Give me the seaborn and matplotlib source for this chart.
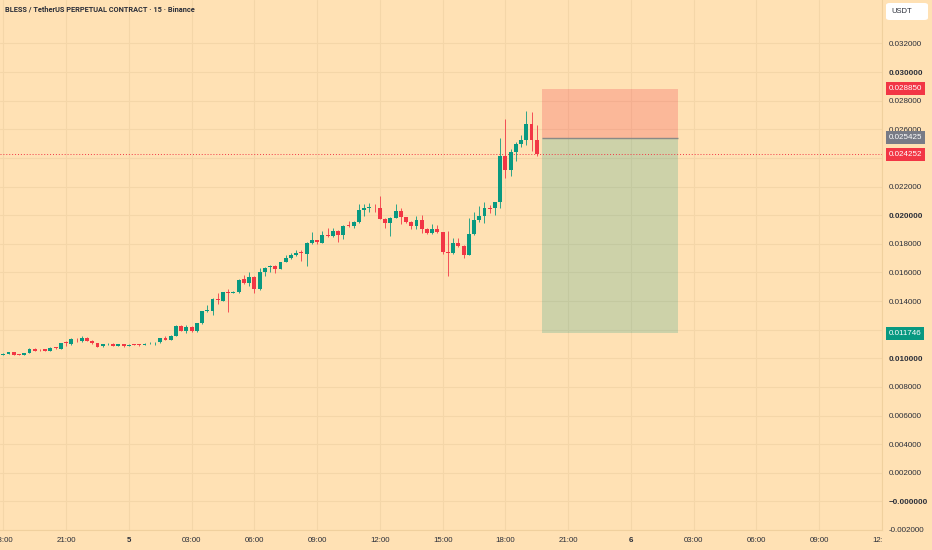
import numpy as np
import pandas as pd
import matplotlib.pyplot as plt
import matplotlib.transforms as mtransforms
from matplotlib.patches import FancyBboxPatch
import seaborn as sns

# 15 minute candles, first one opens 18:00 on day 4
opens = [0.01025, 0.01030, 0.01042, 0.01028, 0.01025, 0.01037, 0.01065, 0.01058, 0.01063, 0.01051,
         0.01077, 0.01065, 0.01111, 0.01100, 0.01130, 0.01118, 0.01141, 0.01123, 0.01105, 0.01084,
         0.01098, 0.01102, 0.01088, 0.01098, 0.01088, 0.01098, 0.01098, 0.01095, 0.01105, 0.01111,
         0.01112, 0.01139, 0.01130, 0.01158, 0.01223, 0.01192, 0.01218, 0.01188, 0.01246, 0.01327,
         0.01332, 0.01413, 0.01401, 0.01464, 0.01457, 0.01460, 0.01553, 0.01525, 0.01571, 0.01483,
         0.01603, 0.01636, 0.01645, 0.01627, 0.01673, 0.01704, 0.01720, 0.01743, 0.01727, 0.01808,
         0.01824, 0.01808, 0.01861, 0.01854, 0.01889, 0.01861, 0.01931, 0.01924, 0.01952, 0.02033,
         0.02050, 0.02057, 0.02047, 0.01976, 0.01948, 0.01983, 0.02029, 0.01987, 0.01955, 0.01924,
         0.01964, 0.01901, 0.01878, 0.01906, 0.01882, 0.01746, 0.01734, 0.01808, 0.01785, 0.01722,
         0.01871, 0.01964, 0.01994, 0.02052, 0.02047, 0.02091, 0.02412, 0.02319, 0.02443, 0.02498,
         0.02528, 0.02640, 0.02528]
highs = [0.01034, 0.01046, 0.01046, 0.01032, 0.01038, 0.01070, 0.01069, 0.01062, 0.01066, 0.01076,
         0.01080, 0.01108, 0.01120, 0.01142, 0.01140, 0.01153, 0.01148, 0.01126, 0.01108, 0.01101,
         0.01110, 0.01106, 0.01103, 0.01101, 0.01099, 0.01101, 0.01102, 0.01105, 0.01115, 0.01115,
         0.01142, 0.01158, 0.01162, 0.01230, 0.01232, 0.01235, 0.01223, 0.01250, 0.01330, 0.01371,
         0.01418, 0.01455, 0.01462, 0.01483, 0.01467, 0.01552, 0.01580, 0.01606, 0.01578, 0.01628,
         0.01638, 0.01655, 0.01650, 0.01676, 0.01725, 0.01734, 0.01755, 0.01756, 0.01812, 0.01882,
         0.01829, 0.01890, 0.01908, 0.01912, 0.01893, 0.01928, 0.01959, 0.01958, 0.02075, 0.02075,
         0.02082, 0.02080, 0.02133, 0.01980, 0.01988, 0.02075, 0.02052, 0.01990, 0.01958, 0.01994,
         0.02000, 0.01908, 0.01936, 0.01934, 0.01885, 0.01889, 0.01843, 0.01842, 0.01790, 0.01983,
         0.02020, 0.02063, 0.02091, 0.02068, 0.02093, 0.02540, 0.02674, 0.02462, 0.02509, 0.02558,
         0.02725, 0.02718, 0.02633]
lows = [0.01021, 0.01027, 0.01020, 0.01021, 0.01023, 0.01034, 0.01050, 0.01052, 0.01048, 0.01048,
        0.01068, 0.01062, 0.01088, 0.01096, 0.01112, 0.01115, 0.01120, 0.01102, 0.01078, 0.01080,
        0.01096, 0.01085, 0.01085, 0.01078, 0.01085, 0.01092, 0.01088, 0.01092, 0.01103, 0.01090,
        0.01109, 0.01127, 0.01127, 0.01155, 0.01188, 0.01178, 0.01185, 0.01185, 0.01243, 0.01325,
        0.01302, 0.01378, 0.01399, 0.01325, 0.01455, 0.01457, 0.01520, 0.01502, 0.01455, 0.01480,
        0.01574, 0.01605, 0.01599, 0.01624, 0.01670, 0.01695, 0.01715, 0.01680, 0.01645, 0.01800,
        0.01801, 0.01805, 0.01850, 0.01850, 0.01813, 0.01831, 0.01915, 0.01913, 0.01948, 0.01995,
        0.02024, 0.02020, 0.01970, 0.01913, 0.01854, 0.01980, 0.01936, 0.01945, 0.01905, 0.01901,
        0.01878, 0.01869, 0.01870, 0.01877, 0.01732, 0.01572, 0.01730, 0.01775, 0.01704, 0.01719,
        0.01862, 0.01954, 0.01948, 0.02013, 0.02003, 0.02052, 0.02261, 0.02277, 0.02382, 0.02474,
        0.02491, 0.02447, 0.02412]
closes = [0.01030, 0.01042, 0.01023, 0.01025, 0.01035, 0.01065, 0.01053, 0.01056, 0.01051, 0.01072,
          0.01070, 0.01105, 0.01105, 0.01135, 0.01125, 0.01141, 0.01123, 0.01105, 0.01081, 0.01098,
          0.01102, 0.01088, 0.01100, 0.01084, 0.01095, 0.01095, 0.01093, 0.01102, 0.01109, 0.01112,
          0.01139, 0.01130, 0.01158, 0.01227, 0.01192, 0.01218, 0.01188, 0.01246, 0.01327, 0.01336,
          0.01413, 0.01406, 0.01460, 0.01455, 0.01464, 0.01548, 0.01525, 0.01571, 0.01483, 0.01603,
          0.01633, 0.01645, 0.01627, 0.01673, 0.01704, 0.01720, 0.01739, 0.01734, 0.01808, 0.01824,
          0.01813, 0.01859, 0.01854, 0.01889, 0.01861, 0.01924, 0.01924, 0.01955, 0.02033, 0.02052,
          0.02059, 0.02054, 0.01976, 0.01948, 0.01983, 0.02029, 0.01987, 0.01955, 0.01924, 0.01964,
          0.01901, 0.01878, 0.01906, 0.01882, 0.01743, 0.01734, 0.01808, 0.01785, 0.01722, 0.01871,
          0.01964, 0.01994, 0.02052, 0.02045, 0.02091, 0.02412, 0.02319, 0.02443, 0.02498, 0.02528,
          0.02640, 0.02528, 0.024252]

# time axis labels, one every 12 candles (3 hours)
time_labels = ["18:00", "21:00", "5", "03:00", "06:00", "09:00", "12:00", "15:00",
               "18:00", "21:00", "6", "03:00", "06:00", "09:00", "12:00"]
bold_time = ["5", "6"]

# short position tool
entry_price = 0.025425
stop_price = 0.028850
target_price = 0.011746
box_start = 103
box_end = 129

price_ticks = [-0.002, 0.0, 0.002, 0.004, 0.006, 0.008, 0.010, 0.012, 0.014, 0.016,
               0.018, 0.020, 0.022, 0.024, 0.026, 0.028, 0.030, 0.032]
bold_prices = [0.0, 0.010, 0.020, 0.030]

bg = "#ffe1b4"
grid_c = "#f4d6a8"
up_c = "#089981"
down_c = "#f23645"
txt_c = "#2a2e39"

sns.set_theme(style="white", rc={"axes.facecolor": bg, "figure.facecolor": bg})
plt.rcParams['font.family'] = ['Liberation Sans', 'DejaVu Sans']

df = pd.DataFrame({"open": opens, "high": highs, "low": lows, "close": closes})
df["idx"] = np.arange(len(df))
df["up"] = df["close"] >= df["open"]
df["color"] = np.where(df["up"], up_c, down_c)
df["bottom"] = df[["open", "close"]].min(axis=1)
df["body"] = (df["close"] - df["open"]).abs().clip(lower=0.00004)

fig = plt.figure(figsize=(9.32, 5.5), dpi=100)
ax = fig.add_axes([0, 20 / 550, 882 / 932, 530 / 550])

# grid
xt = np.arange(0, 12 * len(time_labels), 12)
for x in xt:
    ax.axvline(x, color=grid_c, lw=0.8, zorder=0)
for y in price_ticks:
    ax.axhline(y, color=grid_c, lw=0.8, zorder=0)

# position box
ax.fill_between([box_start, box_end], entry_price, stop_price, color=down_c, alpha=0.24, lw=0, zorder=1)
ax.fill_between([box_start, box_end], target_price, entry_price, color=up_c, alpha=0.2, lw=0, zorder=1)
ax.hlines(entry_price, box_start, box_end, color="#8a8a86", lw=1.0, zorder=2)

# candles
ax.vlines(df["idx"], df["low"], df["high"], colors=df["color"], lw=0.7, alpha=0.85, zorder=3)
ax.bar(df["idx"], df["body"], bottom=df["bottom"], width=0.74, color=df["color"], lw=0, zorder=4)

# last price line
ax.axhline(closes[-1], color=down_c, lw=0.7, ls=(0, (1, 2)), zorder=2)

ax.set_xlim(-0.63, 167.9)
ax.set_ylim(-0.001895, 0.035038)

# the time scale is cut where the price scale starts
clip = mtransforms.TransformedBbox(mtransforms.Bbox([[0, 0], [882 / 932, 1]]), fig.transFigure)
ax.set_xticks(xt)
ax.set_xticklabels(time_labels)
for lab in ax.get_xticklabels():
    lab.set_fontsize(5.7)
    lab.set_color(txt_c)
    lab.set_clip_on(True)
    lab.set_clip_box(clip)
    if lab.get_text() in bold_time:
        lab.set_fontweight("bold")
ax.tick_params(axis="x", length=0, pad=5)

ax.yaxis.tick_right()
ax.set_yticks(price_ticks)
ax.set_yticklabels(["\u22120.000000" if p == 0 else f"{p:.6f}" for p in price_ticks])
for lab, p in zip(ax.get_yticklabels(), price_ticks):
    lab.set_fontsize(5.8)
    lab.set_color(txt_c)
    if p in bold_prices:
        lab.set_fontweight("bold")
ax.tick_params(axis="y", length=0, pad=5)

for side in ["top", "left"]:
    ax.spines[side].set_visible(False)
for side in ["right", "bottom"]:
    ax.spines[side].set_color("#f0d09e")
    ax.spines[side].set_linewidth(0.8)

# coloured price tags on the scale
trans = mtransforms.blended_transform_factory(ax.transAxes, ax.transData)
tags = [(stop_price, down_c), (entry_price, "#787b86"), (closes[-1], down_c), (target_price, up_c)]
for price, col in tags:
    ax.text(1.0075, price, f"{price:.6f}", transform=trans, ha="left", va="center",
            fontsize=5.8, color="white", zorder=10, clip_on=False,
            bbox=dict(boxstyle="square,pad=0.35", fc=col, ec="none"))

fig.text(5 / 932, 1 - 10 / 550, "BLESS / TetherUS PERPETUAL CONTRACT · 15 · Binance",
         ha="left", va="center", fontsize=5.3, fontweight="bold", color=txt_c,
         family=["Roboto", "DejaVu Sans"])

usdt_box = FancyBboxPatch((886 / 932, 1 - 20 / 550), 42 / 932, 17 / 550,
                          boxstyle="round,pad=0,rounding_size=0.004",
                          transform=fig.transFigure, fc="white", ec="none")
fig.patches.append(usdt_box)
fig.text(891 / 932, 1 - 11.5 / 550, "USDT", ha="left", va="center", fontsize=5.5, color=txt_c)

plt.savefig("out.png", dpi=100)
